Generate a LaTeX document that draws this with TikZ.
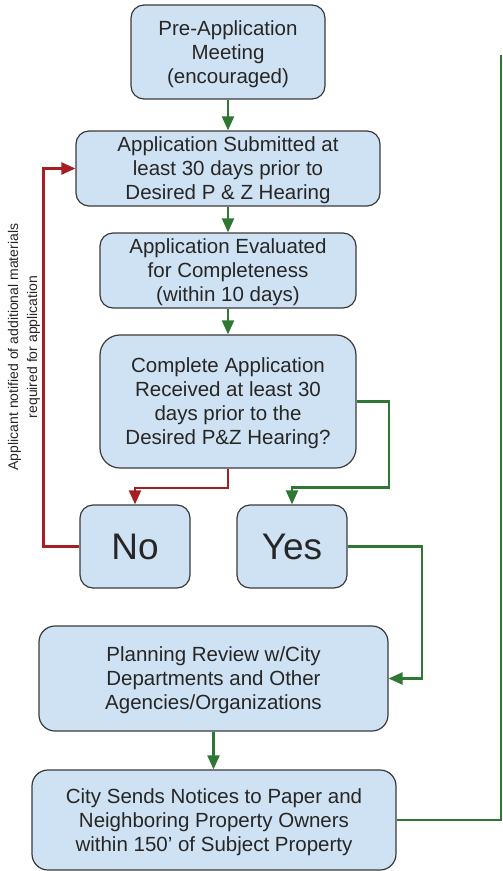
\documentclass[tikz,border=0pt]{standalone}
\usepackage{fontspec}
\setmainfont{Liberation Sans}
\usetikzlibrary{arrows.meta}
\definecolor{boxfill}{HTML}{CFE2F3}
\definecolor{boxline}{HTML}{3A3A3A}
\definecolor{flowgreen}{HTML}{2E7834}
\definecolor{flowred}{HTML}{A61E22}
\begin{document}
\begin{tikzpicture}[x=1pt, y=-1pt,
    stepbox/.style={draw=boxline, fill=boxfill, line width=1.2pt, rounded corners=13pt,
        align=center, inner sep=0pt, text=black!85, text depth=-1.5pt, font=\fontsize{20.5}{24}\selectfont},
    answer/.style={stepbox, text depth=0pt, font=\fontsize{37}{40}\selectfont},
    goarrow/.style={draw=flowgreen, line width=2.2pt, -{Triangle[length=14pt, width=12pt]}},
    backarrow/.style={draw=flowred, line width=2.2pt, -{Triangle[length=14pt, width=12pt]}},
    goline/.style={draw=flowgreen, line width=2.2pt}]
    \useasboundingbox (0,0) rectangle (503,871);
    \node[stepbox, minimum width=194pt, minimum height=94pt] (pre) at (228,52) {Pre-Application\\Meeting\\(encouraged)};
    \node[stepbox, minimum width=304pt, minimum height=75pt] (sub) at (228,168.5) {Application Submitted at\\least 30 days prior to\\Desired P \& Z Hearing};
    \node[stepbox, minimum width=256pt, minimum height=75pt] (eval) at (228,270.5) {Application Evaluated\\for Completeness\\(within 10 days)};
    \node[stepbox, minimum width=256pt, minimum height=133pt, rounded corners=20pt] (comp) at (228,401.5) {Complete Application\\Received at least 30\\days prior to the\\Desired P\&Z Hearing?};
    \node[answer, minimum width=110pt, minimum height=83pt] (no) at (135,546.5) {No};
    \node[answer, minimum width=110pt, minimum height=83pt] (yes) at (292,546.5) {Yes};
    \node[stepbox, minimum width=349pt, minimum height=105pt, rounded corners=16pt] (plan) at (213.5,678.5) {Planning Review w/City\\Departments and Other\\Agencies/Organizations};
    \node[stepbox, minimum width=364pt, minimum height=100pt, rounded corners=16pt] (city) at (214,820) {City Sends Notices to Paper and\\Neighboring Property Owners\\within 150’ of Subject Property};
    \node[rotate=90, align=center, text=black!85, font=\fontsize{14}{19}\selectfont] (note) at (24,347) {Applicant notified of additional materials\\required for application};
    \coordinate (top) at (501,55);
    \draw[goarrow] (pre) -- (sub);
    \draw[goarrow] (sub) -- (eval);
    \draw[goarrow] (eval) -- (comp);
    \draw[backarrow] (comp.south) -- ++(0,19) -| (no.north);
    \draw[goarrow] (comp.east) -- ++(32,0) -- ++(0,86) -| (yes.north);
    \draw[backarrow] (no.west) -- ++(-36,0) |- (sub.west);
    \draw[goarrow] (yes.east) -- ++(74,0) |- (plan.east);
    \draw[goarrow] (plan.south) -- (plan.south |- city.north);
    \draw[goline] (city.east) -| (top);
\end{tikzpicture}
\end{document}
